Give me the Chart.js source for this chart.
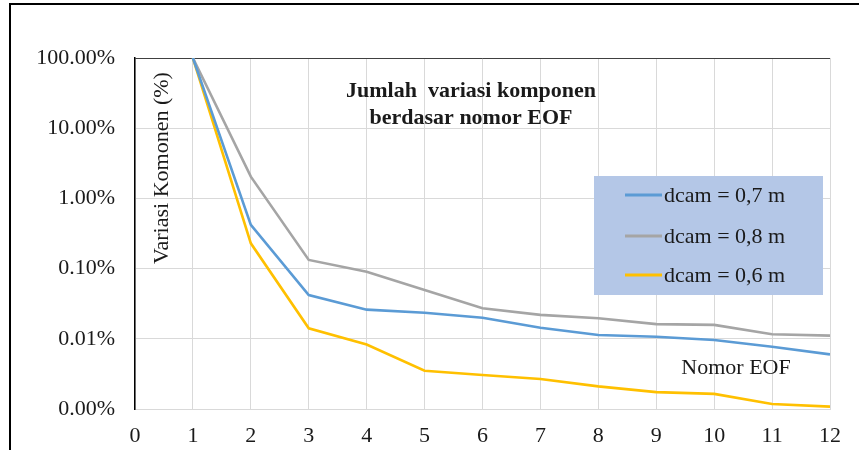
<!DOCTYPE html>
<html>
<head>
<meta charset="utf-8">
<script src="https://cdn.jsdelivr.net/npm/chart.js@4.4.1/dist/chart.umd.min.js"></script>
<style>
  html, body { margin: 0; padding: 0; background: #ffffff; }
  #wrap { position: relative; width: 859px; height: 450px; }
  canvas { display: block; }
</style>
</head>
<body>
<div id="wrap"><canvas id="c" width="859" height="450"></canvas></div>
<script>
// EOF component numbers
const eofNumbers = [1, 2, 3, 4, 5, 6, 7, 8, 9, 10, 11, 12];

// Variance share of each component (%) per camera distance
const dcam07 = [100, 0.42, 0.042, 0.026, 0.0235, 0.020, 0.0144, 0.0113, 0.0107, 0.0096, 0.0077, 0.0060];
const dcam08 = [100, 2.04, 0.133, 0.090, 0.0495, 0.0272, 0.0219, 0.0196, 0.0162, 0.0158, 0.0116, 0.0111];
const dcam06 = [100, 0.229, 0.0141, 0.0083, 0.0035, 0.00305, 0.00267, 0.0021, 0.00174, 0.00164, 0.00118, 0.00108];

const seriesLabels = ['dcam = 0,7 m', 'dcam = 0,8 m', 'dcam = 0,6 m'];
const seriesColors = ['#5b9bd5', '#a5a5a5', '#ffc000'];

// Tick values on the log axis
const yTickValues = [0.001, 0.01, 0.1, 1, 10, 100];

const chartTitle = ['Jumlah  variasi komponen', 'berdasar nomor EOF'];
const yTitle = 'Variasi Komonen (%)';
const xTitle = 'Nomor EOF';

const FONT = "'Liberation Serif', 'Times New Roman', serif";

function toPoints(values) {
  return eofNumbers.map((n, i) => ({ x: n, y: values[i] }));
}

// Frame, in-plot titles and legend box
const decorations = {
  id: 'decorations',
  beforeDraw(chart) {
    const ctx = chart.ctx;
    ctx.save();
    ctx.fillStyle = '#ffffff';
    ctx.fillRect(0, 0, chart.width, chart.height);
    ctx.restore();
  },
  afterDraw(chart) {
    const ctx = chart.ctx;
    const area = chart.chartArea;
    ctx.save();

    // outer frame
    ctx.strokeStyle = '#000000';
    ctx.lineWidth = 2;
    ctx.beginPath();
    ctx.moveTo(10, chart.height);
    ctx.lineTo(10, 4);
    ctx.lineTo(chart.width, 4);
    ctx.stroke();

    // chart title
    ctx.fillStyle = '#1a1a1a';
    ctx.font = 'bold 22px ' + FONT;
    ctx.textAlign = 'center';
    ctx.textBaseline = 'middle';
    ctx.fillText(chartTitle[0], 471, 91);
    ctx.fillText(chartTitle[1], 471, 118);

    // y axis title
    ctx.font = '22px ' + FONT;
    ctx.translate(area.left + 27, 168);
    ctx.rotate(-Math.PI / 2);
    ctx.fillText(yTitle, 0, 0);
    ctx.setTransform(1, 0, 0, 1, 0, 0);

    // x axis title
    ctx.fillText(xTitle, 736, 368);

    // legend
    const box = { x: 594, y: 176, w: 229, h: 119 };
    ctx.fillStyle = '#b4c7e7';
    ctx.fillRect(box.x, box.y, box.w, box.h);
    const rows = [195, 236, 275];
    chart.data.datasets.forEach((ds, i) => {
      ctx.strokeStyle = ds.borderColor;
      ctx.lineWidth = 3;
      ctx.beginPath();
      ctx.moveTo(625, rows[i]);
      ctx.lineTo(662, rows[i]);
      ctx.stroke();
      ctx.fillStyle = '#1a1a1a';
      ctx.font = '22px ' + FONT;
      ctx.textAlign = 'left';
      ctx.textBaseline = 'middle';
      ctx.fillText(ds.label, 664, rows[i] + 1);
    });

    ctx.restore();
  }
};

new Chart(document.getElementById('c'), {
  type: 'line',
  data: {
    datasets: [
      { label: seriesLabels[0], data: toPoints(dcam07), borderColor: seriesColors[0] },
      { label: seriesLabels[1], data: toPoints(dcam08), borderColor: seriesColors[1] },
      { label: seriesLabels[2], data: toPoints(dcam06), borderColor: seriesColors[2] }
    ].map(d => Object.assign(d, {
      borderWidth: 2.6,
      pointRadius: 0,
      tension: 0,
      fill: false
    }))
  },
  options: {
    responsive: false,
    animation: false,
    devicePixelRatio: 1,
    layout: { padding: { left: 0, top: 58, right: 29, bottom: 0 } },
    plugins: {
      legend: { display: false },
      title: { display: false },
      tooltip: { enabled: false }
    },
    scales: {
      x: {
        type: 'linear',
        min: 0,
        max: 12,
        ticks: {
          stepSize: 1,
          padding: 14,
          color: '#1a1a1a',
          font: { family: FONT, size: 22 }
        },
        grid: { color: '#d9d9d9', lineWidth: 1, drawTicks: false },
        border: { color: '#d9d9d9', width: 1 },
        afterFit(scale) { scale.height = 41; }
      },
      y: {
        type: 'logarithmic',
        min: 0.001,
        max: 100,
        afterBuildTicks(scale) {
          scale.ticks = yTickValues.map(v => ({ value: v }));
        },
        ticks: {
          padding: 20,
          color: '#1a1a1a',
          font: { family: FONT, size: 22 },
          callback: (v) => Number(v).toFixed(2) + '%'
        },
        grid: {
          drawTicks: false,
          lineWidth: 1,
          color: (c) => (c.tick && c.tick.value === 100 ? '#404040' : '#d9d9d9')
        },
        border: { color: '#000000', width: 1.5 },
        afterFit(scale) { scale.width = 135; }
      }
    }
  },
  plugins: [decorations]
});
</script>
</body>
</html>
